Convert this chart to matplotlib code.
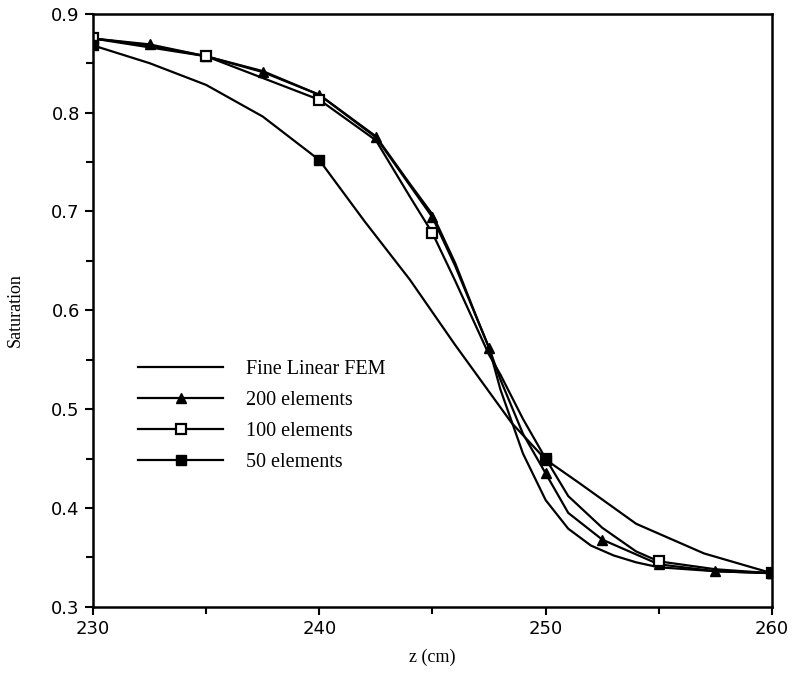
import matplotlib
matplotlib.use("Agg")
import matplotlib.pyplot as plt
from matplotlib.ticker import MultipleLocator, FormatStrFormatter

# Fine linear FEM (no markers)
z_fine = [230, 232.5, 235, 237.5, 240, 242.5, 244, 245, 246, 247, 247.5, 248,
          249, 250, 251, 252, 253, 254, 255, 257.5, 260]
s_fine = [0.875, 0.868, 0.857, 0.842, 0.818, 0.776, 0.728, 0.697, 0.648, 0.590,
          0.562, 0.520, 0.455, 0.408, 0.379, 0.362, 0.352, 0.345, 0.340, 0.336, 0.334]

# 200 elements (triangles every 2.5 cm)
z_200 = [230, 232.5, 235, 237.5, 240, 242.5, 245, 246, 247.5, 248, 249, 250,
         251, 252.5, 255, 257.5, 260]
s_200 = [0.875, 0.869, 0.857, 0.841, 0.818, 0.775, 0.694, 0.645, 0.562, 0.530,
         0.475, 0.435, 0.395, 0.368, 0.343, 0.336, 0.334]

# 100 elements (open squares every 5 cm)
z_100 = [230, 235, 240, 242.5, 244, 245, 246, 247.5, 248, 249, 250, 251, 252.5,
         254, 255, 257.5, 260]
s_100 = [0.875, 0.857, 0.813, 0.772, 0.715, 0.678, 0.630, 0.555, 0.535, 0.490,
         0.450, 0.412, 0.380, 0.356, 0.346, 0.338, 0.334]

# 50 elements (filled squares every 10 cm)
z_50 = [230, 232.5, 235, 237.5, 240, 242, 244, 246, 248.5, 250, 251.5, 254, 257, 260]
s_50 = [0.868, 0.850, 0.828, 0.796, 0.752, 0.690, 0.631, 0.565, 0.486, 0.449,
        0.425, 0.384, 0.354, 0.334]

def marks(z, step):
    return [i for i, v in enumerate(z) if abs(v / step - round(v / step)) < 1e-6]

fig = plt.figure(figsize=(7.95, 6.88), dpi=100)
ax = fig.add_axes([0.117, 0.118, 0.854, 0.862])

lw = 1.6
ax.plot(z_fine, s_fine, color="black", lw=lw, label="Fine Linear FEM")
ax.plot(z_200, s_200, color="black", lw=lw, marker="^", ms=7.5,
        markevery=marks(z_200, 2.5), label="200 elements")
ax.plot(z_100, s_100, color="black", lw=lw, marker="s", ms=7, mfc="white",
        mew=1.6, markevery=marks(z_100, 5), label="100 elements")
ax.plot(z_50, s_50, color="black", lw=lw, marker="s", ms=7.5,
        markevery=marks(z_50, 10), label="50 elements")

ax.set_xlim(230, 260)
ax.set_ylim(0.3, 0.9)
ax.xaxis.set_major_locator(MultipleLocator(10))
ax.xaxis.set_minor_locator(MultipleLocator(5))
ax.yaxis.set_major_locator(MultipleLocator(0.1))
ax.yaxis.set_minor_locator(MultipleLocator(0.05))
ax.yaxis.set_major_formatter(FormatStrFormatter("%.1f"))

for sp in ax.spines.values():
    sp.set_linewidth(1.8)
ax.tick_params(which="both", direction="out", width=1.5, top=False, right=False)
ax.tick_params(which="major", length=6, labelsize=13)
ax.tick_params(which="minor", length=5)
for lab in ax.get_xticklabels() + ax.get_yticklabels():
    lab.set_family("DejaVu Sans")

ax.set_xlabel("z (cm)", family="Liberation Serif", fontsize=13, labelpad=8)
ax.set_ylabel("Saturation", family="Liberation Serif", fontsize=13, labelpad=20)

leg = ax.legend(loc="upper left", bbox_to_anchor=(0.04, 0.447), frameon=False,
                handlelength=4.2, handletextpad=1.15, labelspacing=0.6,
                prop={"family": "Liberation Serif", "size": 14.5})

fig.savefig("out.png", dpi=100)
